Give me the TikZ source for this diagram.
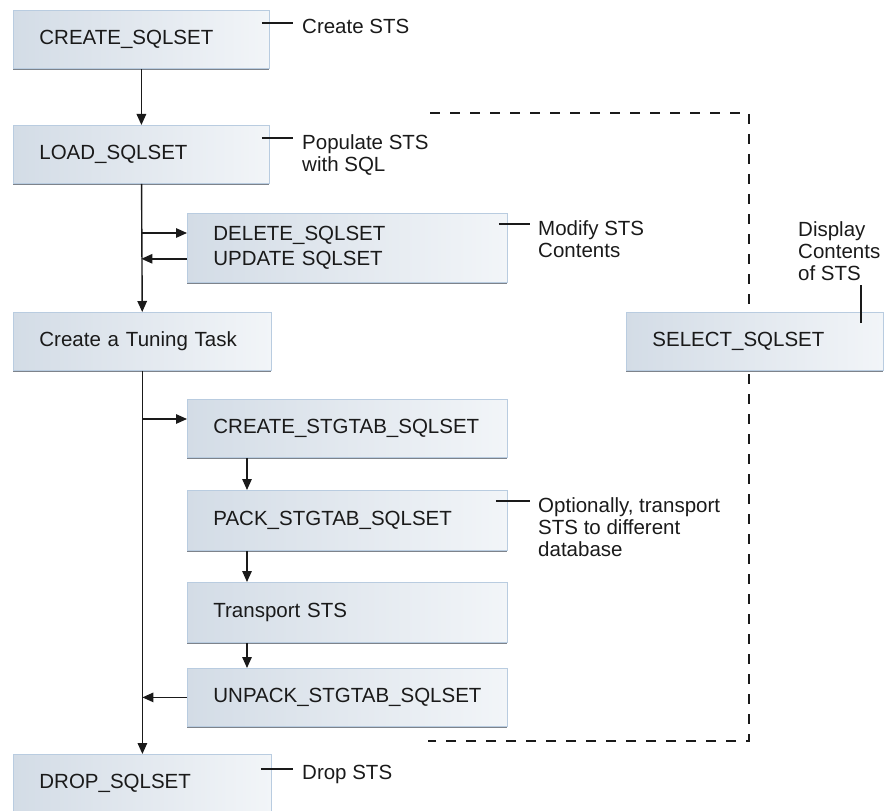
\documentclass[tikz,border=0pt]{standalone}
\usepackage{fontspec}
\setmainfont{Liberation Sans}
\usetikzlibrary{arrows.meta,shadows}
\definecolor{boxl}{HTML}{D3DCE6}
\definecolor{boxr}{HTML}{F2F5F8}
\definecolor{borda}{HTML}{B9CCE0}
\definecolor{sombra}{HTML}{7D838B}
\definecolor{tinta}{HTML}{1A1A1A}

\begin{document}
\begin{tikzpicture}[x=1pt,y=-1pt, font=\fontsize{20.5}{22}\selectfont, text=tinta,
    sq/.style={anchor=north west, draw=borda, line width=0.8pt, left color=boxl, right color=boxr, minimum height=58pt, text width=#1, inner xsep=26pt, inner ysep=0pt, align=left, drop shadow={shadow xshift=-0.8pt, shadow yshift=-1.8pt, opacity=1, fill=sombra}},
    sq/.default=204pt,
    lbl/.style={anchor=north west, inner sep=0pt, align=left},
    ar/.style={-{Triangle[length=11pt,width=9.5pt]}, line width=1.4pt, tinta},
    tk/.style={line width=1.8pt, tinta},
    dsh/.style={line width=1.3pt, tinta, dash pattern=on 10pt off 10pt}]
  \useasboundingbox (0,0) rectangle (890,810);
  % bracket round the optional steps
  \draw[dsh] (430,113) -| (749,741) -- (428,741);
  \node[sq] (n1) at (13,10) {CREATE\_SQLSET};
  \node[sq] (n2) at (13,125) {LOAD\_SQLSET};
  \node[sq=268pt, minimum height=69pt] (n3) at (187,213) {DELETE\_SQLSET\\[3pt]UPDATE SQLSET};
  \node[sq=206pt] (n4) at (13,312) {Create a Tuning Task};
  \node[sq=205pt] (n5) at (626,312) {SELECT\_SQLSET};
  \node[sq=268pt] (n6) at (187,399) {CREATE\_STGTAB\_SQLSET};
  \node[sq=268pt, minimum height=60pt] (n7) at (187,490) {PACK\_STGTAB\_SQLSET};
  \node[sq=268pt, minimum height=60pt] (n8) at (187,582) {Transport STS};
  \node[sq=268pt] (n9) at (187,668) {UNPACK\_STGTAB\_SQLSET};
  \node[sq=206pt] (n10) at (13,754) {DROP\_SQLSET};
  % notes
  \node[lbl] (l1) at (302,19) {Create STS};
  \node[lbl] (l2) at (302,134) {Populate STS\\with SQL};
  \node[lbl] (l3) at (538,220) {Modify STS\\Contents};
  \node[lbl] (l4) at (538,497) {Optionally, transport\\STS to different\\database};
  \node[lbl] (l5) at (302,765) {Drop STS};
  \node[lbl] (l6) at (798,221) {Display\\Contents\\of STS};
  % main line
  \coordinate (c1) at ([yshift=-20pt]n3.north west);
  \coordinate (c2) at ([yshift=24pt]n3.south west);
  \coordinate (c3) at ([yshift=-20pt]n6.north west);
  \draw[ar] (n1) -- (n2);
  \draw[ar] (n2) -- (n4);
  \draw[ar] (n4) -- (n10);
  \draw[ar] (n2.south |- c1) -- (c1);
  \draw[ar] (c2) -- (n2.south |- c2);
  \draw[ar] (n4.south |- c3) -- (c3);
  \draw[ar] (n9.west) -- (n4.south |- n9.west);
  \foreach \a/\b in {n6/n7,n7/n8,n8/n9}{\draw[ar] ([xshift=60pt]\a.south west) -- ([xshift=60pt]\b.north west);}
  % ticks to the notes
  \draw[tk] ([xshift=-8pt,yshift=-13pt]n1.north east) -- ([xshift=-9pt,yshift=-4pt]l1.north west);
  \draw[tk] ([xshift=-8pt,yshift=-13pt]n2.north east) -- ([xshift=-9pt,yshift=-4pt]l2.north west);
  \draw[tk] ([xshift=-9pt,yshift=-11pt]n3.north east) -- ([xshift=-8pt,yshift=-4pt]l3.north west);
  \draw[tk] ([xshift=-12pt,yshift=-11pt]n7.north east) -- ([xshift=-8pt,yshift=-4pt]l4.north west);
  \draw[tk] ([xshift=-11pt,yshift=-15pt]n10.north east) -- ([xshift=-9pt,yshift=-4pt]l5.north west);
  \draw[tk] ([xshift=-23pt,yshift=-11pt]n5.north east) -- ([xshift=-23pt,yshift=27pt]n5.north east);
\end{tikzpicture}
\end{document}
